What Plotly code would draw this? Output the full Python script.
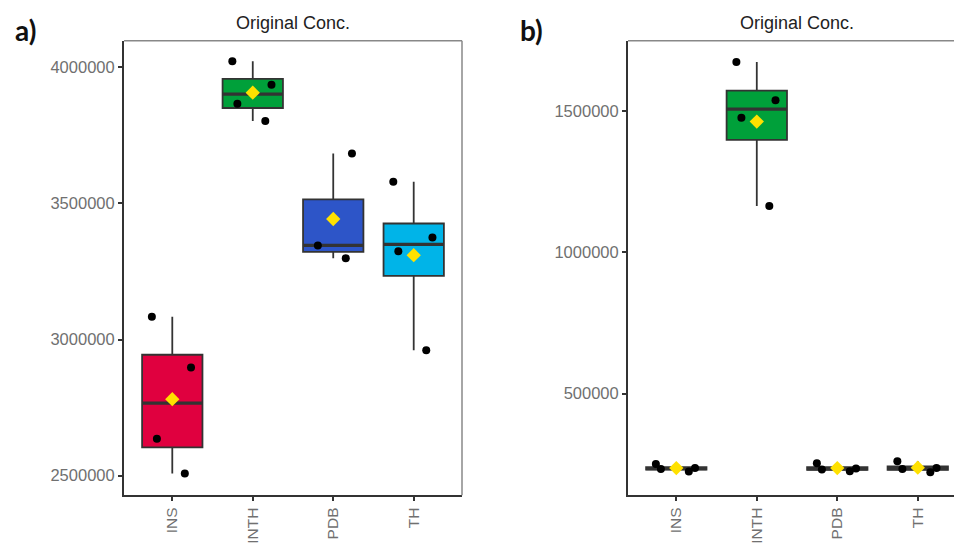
import numpy as np
import plotly.graph_objects as go

categories = ["INS", "INTH", "PDB", "TH"]
box_colors = ["#E0003F", "#00A03A", "#2D55C8", "#00B4E8"]

# Panel a) values
a_INS = [2507600, 2635600, 2897500, 3083500]
a_INTH = [3802600, 3866000, 3935500, 4021600]
a_PDB = [3298800, 3345400, 3683400]
a_TH = [2960900, 3324200, 3374700, 3579700]

# Panel b) values
b_INS = [224000, 233000, 236000, 251000]
b_INTH = [1164500, 1476900, 1539200, 1674700]
b_PDB = [225000, 231000, 235000, 253000]
b_TH = [221000, 233000, 236000, 260000]

a_ticks = [2500000, 3000000, 3500000, 4000000]
b_ticks = [500000, 1000000, 1500000]

panel_a = [a_INS, a_INTH, a_PDB, a_TH]
panel_b = [b_INS, b_INTH, b_PDB, b_TH]

W, H = 954, 544
def px(x):
    return x / W
def py(y):
    return 1 - y / H

fig = go.Figure()

for panel, (xa, ya) in [(panel_a, ("x", "y")), (panel_b, ("x2", "y2"))]:
    for cat, vals, col in zip(categories, panel, box_colors):
        v = np.array(vals, dtype=float)
        med = float(np.median(v))
        fig.add_trace(go.Box(
            x=[cat], y=[vals],
            q1=[float(np.percentile(v, 25))],
            median=[med],
            q3=[float(np.percentile(v, 75))],
            lowerfence=[float(v.min())],
            upperfence=[float(v.max())],
            xaxis=xa, yaxis=ya,
            fillcolor=col,
            line=dict(color="#333333", width=1.8),
            boxpoints=False,
            width=0.75, whiskerwidth=0,
            showlegend=False, hoverinfo="y",
        ))
        # thicker median bar (ggplot style)
        fig.add_trace(go.Box(
            x=[cat], q1=[med], median=[med], q3=[med],
            lowerfence=[med], upperfence=[med],
            xaxis=xa, yaxis=ya,
            fillcolor="rgba(0,0,0,0)",
            line=dict(color="#333333", width=3.2),
            boxpoints=False, width=0.75, whiskerwidth=0,
            showlegend=False, hoverinfo="skip",
        ))
        # jittered data points
        fig.add_trace(go.Box(
            x=[cat] * len(vals), y=vals,
            xaxis=xa, yaxis=ya,
            fillcolor="rgba(0,0,0,0)",
            line=dict(color="rgba(0,0,0,0)", width=0),
            boxpoints="all", jitter=0.8, pointpos=0,
            marker=dict(color="black", size=8),
            width=0.75, whiskerwidth=0,
            showlegend=False, hoverinfo="y",
        ))
    means = [float(np.mean(v)) for v in panel]
    fig.add_trace(go.Scatter(
        x=categories, y=means, xaxis=xa, yaxis=ya, mode="markers",
        marker=dict(symbol="diamond", color="#FFE100", size=11),
        showlegend=False, hoverinfo="y",
    ))

ytickfont = dict(family="Liberation Sans, Arial, sans-serif", size=16.5, color="#707070")
xtickfont = dict(family="Liberation Sans, Arial, sans-serif", size=15.5, color="#707070")
xcommon = dict(type="category", categoryorder="array", categoryarray=categories,
               tickangle=-90, ticks="outside", ticklen=4, tickwidth=1.5, tickcolor="#333",
               showline=True, linecolor="#333", linewidth=2, showgrid=False,
               zeroline=False, tickfont=xtickfont, fixedrange=True)
ycommon = dict(ticks="outside", ticklen=4, tickwidth=1.5, tickcolor="#333",
               showline=True, linecolor="#333", linewidth=2, showgrid=False,
               zeroline=False, tickfont=ytickfont, fixedrange=True)

y_dom = [py(499), py(41)]
fig.update_layout(
    width=W, height=H,
    margin=dict(l=0, r=0, t=0, b=0),
    paper_bgcolor="white", plot_bgcolor="white",
    boxmode="overlay",
    xaxis=dict(domain=[px(124), px(462)], range=[-0.6, 3.6], anchor="y", **xcommon),
    yaxis=dict(domain=y_dom, range=[2427800, 4097300], anchor="x",
               tickvals=a_ticks, ticktext=[str(v) for v in a_ticks], **ycommon),
    xaxis2=dict(domain=[px(628), 1.0], range=[-0.6, 3.45], anchor="y2", **xcommon),
    yaxis2=dict(domain=y_dom, range=[139600, 1750300], anchor="x2",
                tickvals=b_ticks, ticktext=[str(v) for v in b_ticks], **ycommon),
    shapes=[
        dict(type="line", xref="paper", yref="paper", x0=px(124), x1=px(462), y0=py(41), y1=py(41),
             line=dict(color="#888888", width=1.5)),
        dict(type="line", xref="paper", yref="paper", x0=px(462), x1=px(462), y0=py(499), y1=py(41),
             line=dict(color="#888888", width=1.5)),
        dict(type="line", xref="paper", yref="paper", x0=px(628), x1=1.0, y0=py(41), y1=py(41),
             line=dict(color="#888888", width=1.5)),
    ],
    annotations=[
        dict(text="Original Conc.", x=px(293), y=py(23), xref="paper", yref="paper",
             showarrow=False, xanchor="center", yanchor="middle",
             font=dict(family="Liberation Sans, Arial, sans-serif", size=18, color="#222")),
        dict(text="Original Conc.", x=px(797), y=py(23), xref="paper", yref="paper",
             showarrow=False, xanchor="center", yanchor="middle",
             font=dict(family="Liberation Sans, Arial, sans-serif", size=18, color="#222")),
        dict(text="<b>a)</b>", x=px(25), y=py(30), xref="paper", yref="paper",
             showarrow=False, xanchor="center", yanchor="middle",
             font=dict(family="Lato, Carlito, sans-serif", size=28, color="#111")),
        dict(text="<b>b)</b>", x=px(531), y=py(30), xref="paper", yref="paper",
             showarrow=False, xanchor="center", yanchor="middle",
             font=dict(family="Lato, Carlito, sans-serif", size=28, color="#111")),
    ],
)

fig.write_html("out.html", config={"displayModeBar": False},
               post_script="document.body.style.margin='0';document.body.style.overflow='hidden';")
